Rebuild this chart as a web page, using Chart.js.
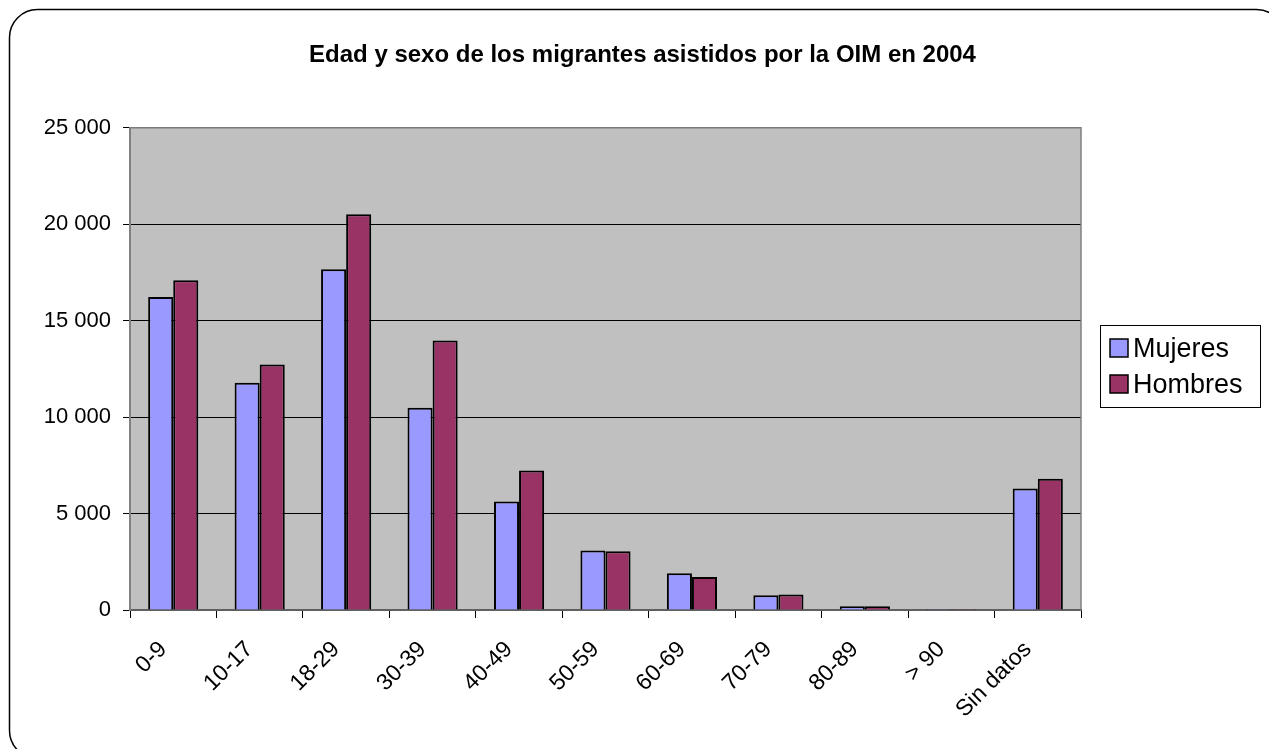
<!DOCTYPE html>
<html>
<head>
<meta charset="utf-8">
<script src="https://cdn.jsdelivr.net/npm/chart.js@4"></script>
<style>
  html, body { margin: 0; padding: 0; background: #fff; }
  #wrap { width: 1269px; height: 749px; }
</style>
</head>
<body>
<div id="wrap"><canvas id="c" width="1269" height="749"></canvas></div>
<script>
const titleText = 'Edad y sexo de los migrantes asistidos por la OIM en 2004';
const categories = ['0-9', '10-17', '18-29', '30-39', '40-49', '50-59', '60-69', '70-79', '80-89', '> 90', 'Sin datos'];
const seriesNames = ['Mujeres', 'Hombres'];
const mujeres = [16230, 11780, 17670, 10480, 5620, 3090, 1900, 760, 190, 50, 6300];
const hombres = [17100, 12730, 20520, 13970, 7230, 3040, 1710, 810, 190, 50, 6800];
const yTickValues = [0, 5000, 10000, 15000, 20000, 25000];
const yTickLabels = ['0', '5 000', '10 000', '15 000', '20 000', '25 000'];

const FONT = '"Liberation Sans", Arial, sans-serif';

const framePlugin = {
  id: 'frame',
  beforeDraw(chart) {
    const ctx = chart.ctx;
    ctx.save();
    ctx.fillStyle = '#ffffff';
    ctx.fillRect(0, 0, chart.width, chart.height);
    ctx.beginPath();
    ctx.roundRect(9.5, 9.5, 1275, 749, 28);
    ctx.lineWidth = 1.5;
    ctx.strokeStyle = '#000000';
    ctx.stroke();
    const a = chart.chartArea;
    ctx.fillStyle = '#C0C0C0';
    ctx.fillRect(a.left, a.top, a.right - a.left, a.bottom - a.top);
    ctx.restore();
  },
  beforeDatasetsDraw(chart) {
    const ctx = chart.ctx;
    const a = chart.chartArea;
    ctx.save();
    ctx.strokeStyle = '#808080';
    ctx.lineWidth = 1.5;
    ctx.strokeRect(a.left, a.top, a.right - a.left, a.bottom - a.top);
    ctx.restore();
  },
  afterDraw(chart) {
    const ctx = chart.ctx;
    const ds = chart.data.datasets;
    const bx = 1100.5, by = 325.5, bw = 160, bh = 82;
    ctx.save();
    ctx.fillStyle = '#ffffff';
    ctx.fillRect(bx, by, bw, bh);
    ctx.strokeStyle = '#000000';
    ctx.lineWidth = 1;
    ctx.strokeRect(bx, by, bw, bh);
    ctx.font = '27px ' + FONT;
    ctx.textBaseline = 'alphabetic';
    ctx.textAlign = 'left';
    ds.forEach((d, i) => {
      const cy = 348 + i * 36;
      ctx.fillStyle = d.backgroundColor;
      ctx.fillRect(1110, cy - 9, 18, 18);
      ctx.strokeStyle = '#000';
      ctx.lineWidth = 1.5;
      ctx.strokeRect(1110, cy - 9, 18, 18);
      ctx.fillStyle = '#000';
      ctx.fillText(d.label, 1133, cy + 9);
    });
    ctx.restore();
  }
};

new Chart(document.getElementById('c'), {
  type: 'bar',
  data: {
    labels: categories,
    datasets: [
      { label: seriesNames[0], data: mujeres, backgroundColor: '#9999FF', borderColor: '#000000', borderWidth: 2,
        categoryPercentage: 0.58, barPercentage: 1.0 },
      { label: seriesNames[1], data: hombres, backgroundColor: '#993366', borderColor: '#000000', borderWidth: 2,
        categoryPercentage: 0.58, barPercentage: 1.0 }
    ]
  },
  options: {
    responsive: false,
    animation: false,
    devicePixelRatio: 1,
    layout: { padding: { left: 16, right: 0, top: 0, bottom: 0 } },
    plugins: {
      legend: { display: false },
      tooltip: { enabled: false },
      title: {
        display: true,
        text: titleText,
        color: '#000',
        font: { family: FONT, size: 24, weight: 'bold' },
        padding: { top: 41, bottom: 58 }
      }
    },
    scales: {
      x: {
        offset: true,
        grid: { display: true, offset: true, drawOnChartArea: false, drawTicks: true, tickLength: 8, tickColor: '#000', tickWidth: 1 },
        border: { display: true, color: '#000', width: 1.5 },
        ticks: { color: '#000', font: { family: FONT, size: 23 }, maxRotation: 45, minRotation: 45, padding: 18, labelOffset: -10, autoSkip: false },
        afterFit(scale) { scale.height = 139; }
      },
      y: {
        min: 0, max: 25000,
        afterBuildTicks(scale) { scale.ticks = yTickValues.map(v => ({ value: v })); },
        grid: { color: '#000', lineWidth: 1, drawTicks: true, tickLength: 7, tickColor: '#000' },
        border: { display: true, color: '#808080', width: 2 },
        ticks: {
          color: '#000', font: { family: FONT, size: 22 }, padding: 12,
          callback(value) { const i = yTickValues.indexOf(value); return i >= 0 ? yTickLabels[i] : ''; }
        },
        afterFit(scale) { scale.width = 114; }
      },
      legendSpace: {
        type: 'linear',
        position: 'right',
        display: true,
        grid: { display: false, drawTicks: false },
        border: { display: false },
        ticks: { display: false },
        afterFit(scale) { scale.width = 188; }
      }
    }
  },
  plugins: [framePlugin]
});
</script>
</body>
</html>
